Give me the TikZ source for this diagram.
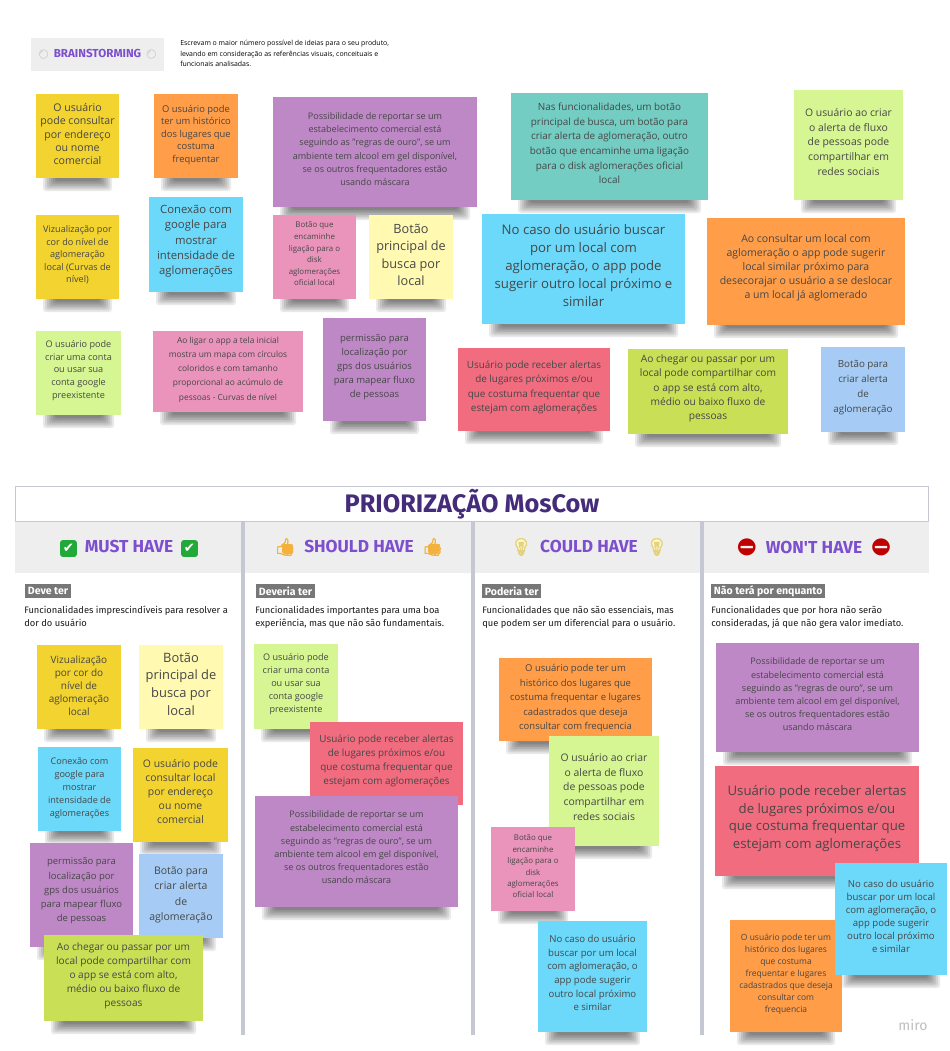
\documentclass[tikz,border=0pt]{standalone}
\usepackage{fontspec}
\setmainfont{Open Sans}
\newfontfamily\firaf{Fira Sans}
\newfontfamily\emo{Noto Emoji}
\newfontfamily\emob[FakeBold=2.5]{Noto Emoji}
\newfontfamily\dejav{DejaVu Sans}
\definecolor{cYellow}{HTML}{F2D32F}
\definecolor{cOrange}{HTML}{FF9D48}
\definecolor{cPurple}{HTML}{BE88C7}
\definecolor{cTeal}{HTML}{74CDC3}
\definecolor{cLight}{HTML}{D5F692}
\definecolor{cPink}{HTML}{EA94BB}
\definecolor{cPale}{HTML}{FFF9B1}
\definecolor{cBlue}{HTML}{6CD8FA}
\definecolor{cSky}{HTML}{A6CCF5}
\definecolor{cLime}{HTML}{C9DF56}
\definecolor{cRed}{HTML}{F16C7F}
\definecolor{cBand}{HTML}{EEEEEE}
\definecolor{cRule}{HTML}{C5C7D3}
\definecolor{cHead}{HTML}{7D4FCF}
\definecolor{cTitle}{HTML}{452C7A}
\definecolor{cTag}{HTML}{777777}
\definecolor{cGreen}{HTML}{22A93A}
\definecolor{cBulb}{HTML}{E3D27C}
\definecolor{cBulbFill}{HTML}{FFF6C4}
\definecolor{cThumb}{HTML}{F3B23C}
\tikzset{
 notebg/.style={inner sep=0pt},
 note/.style={inner sep=0pt,align=center,text=black!72},
 band/.style={fill=cBand,draw=none,inner sep=0pt},
 headtxt/.style={text=cHead,inner sep=0pt,font=\firaf\bfseries\fontsize{13}{15}\selectfont},
 tagbox/.style={fill=cTag,text=white,inner sep=0pt,anchor=west,minimum height=10.5pt,font=\firaf\bfseries\fontsize{7.9}{9}\selectfont,inner xsep=2pt},
 desc/.style={inner sep=0pt,anchor=north west,align=left,text=black!90,font=\firaf\fontsize{7}{9.8}\selectfont},
 vrule/.style={fill=cRule,draw=none}
}
\def\parsefmt#1,#2,#3\relax{\pgfmathsetmacro{\fsz}{#1*.75}\pgfmathsetmacro{\lsz}{#2*.75}\def\yoff{#3}}
% name x1 y1 x2 y2 colour size,line,offset text
\newcommand{\sticky}[8]{%
 \foreach \k in {0,...,6}{\fill[black,opacity=.085,rounded corners=2pt] (#2+7+2*\k,#5-6) rectangle (#4-7-2*\k,#5+13-1.7*\k);}
 \parsefmt#7\relax
 \node[notebg,fill=#6,minimum width=(#4-#2)*.75pt,minimum height=(#5-#3)*.75pt] (#1) at ({(#2+#4)/2},{(#3+#5)/2}) {};
 \node[note,font=\fontsize{\fsz}{\lsz}\selectfont] (#1-text) at ({(#2+#4)/2},{(#3+#5)/2+\yoff}) {#8};
}
\newcommand{\headrow}[3]{% name x content
 \node[headtxt] (#1) at (#2) {#3};
}
\newcommand{\checkmk}{\tikz[baseline=-3.2pt]\node[fill=cGreen,text=white,rounded corners=2pt,minimum size=12.6pt,inner sep=0pt,font=\dejav\bfseries\fontsize{10}{10}\selectfont]{\symbol{"2714}};}
\begin{document}
\begin{tikzpicture}[x=.75pt,y=-.75pt]
\useasboundingbox (0,0) rectangle (950,1051);
\fill[white] (0,0) rectangle (950,1051);
% Brainstorming
\node[band,minimum width=99.75pt,minimum height=24.75pt,font=\firaf\bfseries\fontsize{8.7}{10}\selectfont,text=cHead] (bs) at (97.5,54.5) {{\emo\fontsize{6.5}{8}\selectfont\color{gray!70}\symbol{"26AA}}\hspace{3.5pt}BRAINSTORMING\hspace{3.5pt}{\emo\fontsize{6.5}{8}\selectfont\color{gray!70}\symbol{"26AA}}};
\node[inner sep=0pt,anchor=north west,align=left,text=black,font=\fontsize{5.2}{7.9}\selectfont] (bsd) at (180,40) {Escrevam o maior número possível de ideias para o seu produto,\\levando em consideração as referências visuais, conceituais e\\funcionais analisadas.};
% top stickies
\sticky{a1}{36}{94}{119}{178}{cYellow}{10.6,13.3,-2}{O usuário\\pode consultar\\por endereço\\ou nome\\comercial}
\sticky{a2}{154}{94}{238}{178}{cOrange}{9.4,12.5,-1}{O usuário pode\\ter um histórico\\dos lugares que\\costuma\\frequentar}
\sticky{a3}{273}{97}{477}{207}{cPurple}{9.05,13.2,-3}{Possibilidade de reportar se um\\estabelecimento comercial está\\seguindo as "regras de ouro", se um\\ambiente tem alcool em gel disponível,\\se os outros frequentadores estão\\usando máscara}
\sticky{a4}{511}{93}{708}{200}{cTeal}{9.9,14.6,-3}{Nas funcionalidades, um botão\\principal de busca, um botão para\\criar alerta de aglomeração, outro\\botão que encaminhe uma ligação\\para o disk aglomerações oficial\\local}
\sticky{a5}{794}{90}{903}{200}{cLight}{10.4,14.8,-3}{O usuário ao criar\\o alerta de fluxo\\de pessoas pode\\compartilhar em\\redes sociais}
\sticky{a6}{36}{215}{119}{299}{cYellow}{9.1,12.6,-2}{Vizualização por\\cor do nível de\\aglomeração\\local (Curvas de\\nível)}
\sticky{a7}{149}{197}{243}{292}{cBlue}{11.3,15.3,-3}{Conexão com\\google para\\mostrar\\intensidade de\\aglomerações}
\sticky{a8}{273}{215}{356}{299}{cPink}{7.9,11.6,-3}{Botão que\\encaminhe\\ligação para o\\disk\\aglomerações\\oficial local}
\sticky{a9}{369}{215}{453}{299}{cPale}{12.7,17.3,-2}{Botão\\principal de\\busca por\\local}
\sticky{a10}{482}{214}{685}{324}{cBlue}{13.2,17.8,-3.5}{No caso do usuário buscar\\por um local com\\aglomeração, o app pode\\sugerir outro local próximo e\\similar}
\sticky{a11}{707}{218}{905}{325}{cOrange}{10.5,14,-4}{Ao consultar um local com\\aglomeração o app pode sugerir\\local similar próximo para\\desecorajar o usuário a se deslocar\\a um local já aglomerado}
\sticky{a12}{36}{331}{121}{415}{cLight}{9.1,12.8,-2.5}{O usuário pode\\criar uma conta\\ou usar sua\\conta google\\preexistente}
\sticky{a13}{153}{331}{303}{412}{cPink}{8.4,14.2,-2}{Ao ligar o app a tela inicial\\mostra um mapa com círculos\\coloridos e com tamanho\\proporcional ao acúmulo de\\pessoas - Curvas de nível}
\sticky{a14}{323}{318}{426}{421}{cPurple}{9.5,14,-2.5}{permissão para\\localização por\\gps dos usuários\\para mapear fluxo\\de pessoas}
\sticky{a15}{458}{348}{610}{431}{cRed}{9.9,14.3,-2}{Usuário pode receber alertas\\de lugares próximos e/ou\\que costuma frequentar que\\estejam com aglomerações}
\sticky{a16}{628}{349}{788}{434}{cLime}{10.2,14.2,-3}{Ao chegar ou passar por um\\local pode compartilhar com\\o app se está com alto,\\médio ou baixo fluxo de\\pessoas}
\sticky{a17}{821}{347}{905}{432}{cSky}{9.8,15,-2}{Botão para\\criar alerta\\de\\aglomeração}
% MoSCoW frame
\fill[cBand] (15,522) rectangle (929,573);
\node[draw=cRule,line width=1.1pt,fill=white,minimum width=685pt,minimum height=26.5pt,inner sep=0pt,text=cTitle,font=\firaf\bfseries\fontsize{19}{22}\selectfont] (title) at (472,504) {\raisebox{1pt}{PRIORIZAÇÃO MosCow}};
\fill[vrule] (241,522) rectangle (245,1035);
\fill[vrule] (471,522) rectangle (475,1035);
\fill[vrule] (700,522) rectangle (704,1035);
\fill[cThumb,rounded corners=2pt] (282,544) rectangle (293,554);
\fill[cThumb,rounded corners=2pt] (428,544) rectangle (439,554);
\fill[cBulbFill] (521,544) circle (5);
\fill[cBulbFill] (656,544) circle (5);
\headrow{h1}{129,548.5}{\checkmk\hspace{6pt}MUST HAVE\hspace{6pt}\checkmk}
\headrow{h2}{359,547}{{\emob\color{cThumb}\symbol{"1F44D}}\hspace{6pt}SHOULD HAVE\hspace{6pt}{\emob\color{cThumb}\symbol{"1F44D}}}
\headrow{h3}{589,547}{{\emob\color{cBulb}\symbol{"1F4A1}}\hspace{6pt}COULD HAVE\hspace{6pt}{\emob\color{cBulb}\symbol{"1F4A1}}}
\headrow{h4}{814,547}{{\emo\color{red!75!black}\symbol{"26D4}}\hspace{6pt}WON'T HAVE\hspace{6pt}{\emo\color{red!75!black}\symbol{"26D4}}}
\node[tagbox] (t1) at (25,591) {Deve ter};
\node[tagbox] (t2) at (256,591) {Deveria ter};
\node[tagbox] (t3) at (482,591) {Poderia ter};
\node[tagbox] (t4) at (711,591) {Não terá por enquanto};
\node[desc] (d1) at (24,605.5) {Funcionalidades imprescindíveis para resolver a\\dor do usuário};
\node[desc] (d2) at (255,605.5) {Funcionalidades importantes para uma boa\\experiência, mas que não são fundamentais.};
\node[desc] (d3) at (482,605.5) {Funcionalidades que não são essenciais, mas\\que podem ser um diferencial para o usuário.};
\node[desc] (d4) at (711,605.5) {Funcionalidades que por hora não serão\\consideradas, já que não gera valor imediato.};
% must
\sticky{m1}{37}{645}{121}{729}{cYellow}{10,13,-1}{Vizualização\\por cor do\\nível de\\aglomeração\\local}
\sticky{m2}{139}{645}{223}{729}{cPale}{12.9,17.6,-3}{Botão\\principal de\\busca por\\local}
\sticky{m3}{38}{747}{121}{831}{cBlue}{9.1,13,-1}{Conexão com\\google para\\mostrar\\intensidade de\\aglomerações}
\sticky{m4}{133}{748}{228}{842}{cYellow}{10.4,14,-3}{O usuário pode\\consultar local\\por endereço\\ou nome\\comercial}
\sticky{m5}{30}{843}{133}{947}{cPurple}{9.5,14.2,-4}{permissão para\\localização por\\gps dos usuários\\para mapear fluxo\\de pessoas}
\sticky{m6}{139}{854}{223}{938}{cSky}{10.5,15.2,-1}{Botão para\\criar alerta\\de\\aglomeração}
\sticky{m7}{44}{935}{203}{1021}{cLime}{10.1,14,-2}{Ao chegar ou passar por um\\local pode compartilhar com\\o app se está com alto,\\médio ou baixo fluxo de\\pessoas}
% should
\sticky{s1}{254}{644}{338}{729}{cLight}{9.1,12.8,-2.5}{O usuário pode\\criar uma conta\\ou usar sua\\conta google\\preexistente}
\sticky{s2}{310}{722}{463}{805}{cRed}{9.9,14,-3}{Usuário pode receber alertas\\de lugares próximos e/ou\\que costuma frequentar que\\estejam com aglomerações}
\sticky{s3}{255}{796}{458}{907}{cPurple}{9.05,13.2,-4}{Possibilidade de reportar se um\\estabelecimento comercial está\\seguindo as "regras de ouro", se um\\ambiente tem alcool em gel disponível,\\se os outros frequentadores estão\\usando máscara}
% could
\sticky{c1}{499}{658}{652}{741}{cOrange}{9.5,14.5,-1.5}{O usuário pode ter um\\histórico dos lugares que\\costuma frequentar e lugares\\cadastrados que deseja\\consultar com frequencia}
\sticky{c2}{549}{736}{659}{846}{cLight}{10.4,14.8,-4}{O usuário ao criar\\o alerta de fluxo\\de pessoas pode\\compartilhar em\\redes sociais}
\sticky{c3}{491}{827}{575}{911}{cPink}{7.9,11.4,-2.5}{Botão que\\encaminhe\\ligação para o\\disk\\aglomerações\\oficial local}
\sticky{c4}{538}{921}{647}{1032}{cBlue}{9.6,13.6,-3.5}{No caso do usuário\\buscar por um local\\com aglomeração, o\\app pode sugerir\\outro local próximo\\e similar}
% wont
\sticky{w1}{716}{643}{919}{752}{cPurple}{9.05,13.2,-3}{Possibilidade de reportar se um\\estabelecimento comercial está\\seguindo as "regras de ouro", se um\\ambiente tem alcool em gel disponível,\\se os outros frequentadores estão\\usando máscara}
\sticky{w2}{715}{766}{919}{876}{cRed}{13.2,17.7,-2.5}{Usuário pode receber alertas\\de lugares próximos e/ou\\que costuma frequentar que\\estejam com aglomerações}
\sticky{w3}{730}{920}{842}{1032}{cOrange}{8.5,12,-2}{O usuário pode ter um\\histórico dos lugares\\que costuma\\frequentar e lugares\\cadastrados que deseja\\consultar com\\frequencia}
\sticky{w4}{835}{863}{947}{975}{cBlue}{9.6,13,-3}{No caso do usuário\\buscar por um local\\com aglomeração, o\\app pode sugerir\\outro local próximo\\e similar}
\node[inner sep=0pt,text=black!25,font=\firaf\fontsize{10.5}{12}\selectfont] (miro) at (913,1025) {miro};
\end{tikzpicture}
\end{document}
